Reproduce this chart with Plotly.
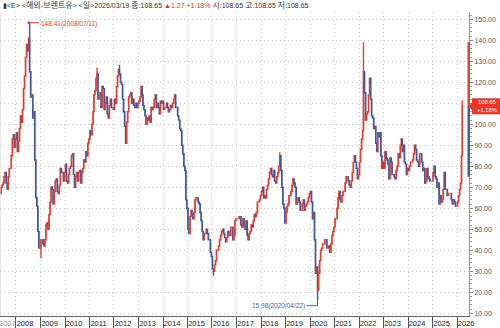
import plotly.graph_objects as go

# ---------------- data ----------------
# semimonthly closing prices (USD/bbl), Brent, May 2007 .. Mar 2026
c2007 = [67, 70, 71, 72, 75, 77, 72, 69, 75, 79, 79, 85, 93, 95, 89, 93]
c2008 = [96, 87, 92, 98, 104, 101, 107, 117, 123, 132, 138, 135, 141, 125, 113, 114, 103, 106, 83, 65, 61, 49, 41, 41]
c2009 = [45, 45, 43, 42, 45, 52, 53, 50, 57, 63, 70, 69, 62, 68, 73, 74, 68, 67, 71, 79, 77, 77, 73, 77]
c2010 = [81, 73, 72, 76, 79, 80, 85, 86, 76, 70, 75, 77, 73, 77, 78, 72, 77, 79, 83, 82, 87, 85, 91, 93]
c2011 = [97, 95, 100, 106, 114, 116, 122, 124, 112, 114, 115, 108, 118, 117, 107, 110, 113, 105, 103, 109, 112, 108, 108, 107]
c2012 = [112, 110, 118, 123, 126, 124, 120, 119, 112, 106, 99, 91, 101, 106, 113, 114, 115, 110, 112, 109, 108, 110, 108, 110]
c2013 = [111, 113, 118, 114, 109, 107, 104, 100, 103, 102, 104, 101, 108, 107, 108, 112, 114, 108, 110, 108, 105, 111, 110, 111]
c2014 = [107, 108, 108, 110, 108, 106, 107, 109, 108, 110, 112, 114, 108, 108, 104, 102, 98, 97, 90, 86, 80, 78, 64, 60]
c2015 = [50, 48, 56, 59, 57, 55, 58, 64, 65, 65, 63, 62, 58, 54, 49, 45, 48, 48, 50, 48, 45, 45, 39, 37]
c2016 = [31, 30, 33, 35, 40, 40, 42, 45, 47, 49, 50, 48, 46, 44, 46, 49, 47, 47, 51, 51, 45, 47, 54, 55]
c2017 = [55, 55, 56, 56, 52, 51, 55, 52, 50, 54, 47, 45, 48, 49, 52, 51, 54, 57, 56, 58, 63, 63, 64, 66]
c2018 = [68, 70, 65, 66, 65, 69, 71, 74, 77, 79, 76, 75, 78, 73, 72, 75, 77, 80, 85, 78, 70, 62, 60, 53]
c2019 = [58, 61, 62, 66, 66, 68, 71, 74, 72, 70, 62, 64, 65, 63, 59, 59, 62, 64, 59, 61, 62, 63, 65, 67]
c2020 = [68, 63, 55, 58, 45, 29, 32, 21, 29, 35, 40, 41, 43, 43, 45, 45, 41, 41, 42, 39, 43, 47, 49, 51]
c2021 = [55, 55, 60, 65, 68, 64, 63, 66, 68, 68, 72, 75, 75, 73, 71, 70, 73, 77, 82, 85, 82, 79, 74, 76]
c2022 = [82, 88, 93, 97, 125, 115, 102, 105, 106, 114, 122, 112, 104, 103, 98, 99, 91, 87, 96, 94, 96, 85, 79, 82]
c2023 = [79, 87, 84, 83, 81, 74, 84, 82, 76, 76, 75, 74, 78, 80, 86, 84, 90, 93, 87, 90, 82, 81, 76, 79]
c2024 = [78, 80, 82, 82, 83, 86, 90, 88, 83, 82, 80, 86, 86, 82, 78, 79, 72, 73, 79, 75, 74, 73, 73, 73]
c2025 = [77, 80, 75, 74, 70, 72, 62, 66, 63, 64, 69, 77, 69, 69, 66, 67, 67, 67, 64, 62, 64, 63, 61, 61]
c2026 = [63, 66, 69, 72, 85, 108.65]

# intraperiod extremes
spike_dates = ["2008-07-11", "2008-12-24", "2011-04-11", "2012-03-13", "2016-01-20",
               "2018-10-03", "2020-04-22", "2022-03-07", "2026-03-17"]
spike_values = [148.41, 36.2, 127.0, 128.4, 27.9, 86.7, 15.98, 139.1, 111.5]

peak_date, peak_value, peak_label = "2008-07-11", 148.41, "148.41(2008/07/11)"
low_date, low_value, low_label = "2020-04-22", 15.98, "15.98(2020/04/22)"

last_close = 108.65
last_change_pct = "+1.18%"
band_top, band_bottom = 139.3, 75.0

year_ticks = list(range(2008, 2027))
y_ticks = list(range(10, 151, 10))
hidden_y_label = 110  # covered by the current-price tag in the reference

K = "<span style='font-size:8px'>"
E = "</span>"
header = ("▮&lt;E&gt; &lt;" + K + "해외-브렌트유" + E + "&gt; &lt;" + K + "일" + E + "&gt;2026/03/19 "
          + K + "종" + E + ":108.65 "
          "<span style='color:#e0302a'>▲1.27 +1.18%</span> "
          + K + "시" + E + ":108.65 " + K + "고" + E + ":108.65 " + K + "저" + E + ":108.65")

# ---------------- build series ----------------
yearly = [(2007, c2007), (2008, c2008), (2009, c2009), (2010, c2010), (2011, c2011),
          (2012, c2012), (2013, c2013), (2014, c2014), (2015, c2015), (2016, c2016),
          (2017, c2017), (2018, c2018), (2019, c2019), (2020, c2020), (2021, c2021),
          (2022, c2022), (2023, c2023), (2024, c2024), (2025, c2025), (2026, c2026)]

dates, closes = [], []
for yr, vals in yearly:
    m0 = 5 if yr == 2007 else 1
    for k, v in enumerate(vals):
        m = m0 + k // 2
        d = 8 if k % 2 == 0 else 23
        if yr == 2026 and m == 3 and k % 2 == 1:
            d = 19
        dates.append(f"{yr}-{m:02d}-{d:02d}")
        closes.append(v)

opens = [closes[0]] + closes[:-1]
highs = [max(o, c) for o, c in zip(opens, closes)]
lows = [min(o, c) for o, c in zip(opens, closes)]
for sd, sv in zip(spike_dates, spike_values):
    for i in range(1, len(dates)):
        if dates[i - 1] < sd <= dates[i]:
            highs[i] = max(highs[i], sv)
            lows[i] = min(lows[i], sv)
            break

RED = "#e2402f"
BLUE = "#40589f"
GRID = "#c9c9c9"
FONT = "Liberation Sans, Arial, sans-serif"

fig = go.Figure()
fig.add_trace(go.Candlestick(
    x=dates, open=opens, high=highs, low=lows, close=closes,
    increasing=dict(line=dict(color=RED, width=1.4), fillcolor=RED),
    decreasing=dict(line=dict(color=BLUE, width=1.4), fillcolor=BLUE),
    whiskerwidth=0, hoverinfo="skip", showlegend=False,
))

fig.update_layout(
    width=500, height=328,
    margin=dict(l=0, r=31, t=12, b=12, pad=0),
    paper_bgcolor="white", plot_bgcolor="white",
    showlegend=False,
    xaxis=dict(
        type="date", range=["2007-05-08", "2026-06-28"],
        rangeslider=dict(visible=False),
        tickvals=[f"{y}-01-01" for y in year_ticks],
        ticktext=[str(y) for y in year_ticks],
        ticks="outside", ticklen=11, tickwidth=1, tickcolor="#555",
        showline=True, linecolor="#666", linewidth=1,
        showgrid=True, gridcolor=GRID, griddash="1px,3px", gridwidth=1,
        zeroline=False,
        tickfont=dict(family=FONT, size=7.5, color="#222"),
        ticklabelshift=9, ticklabelstandoff=-11,
    ),
    yaxis=dict(
        side="right", range=[8.666, 153.5],
        tickvals=y_ticks,
        ticktext=["" if v == hidden_y_label else f"{v:.2f}" for v in y_ticks],
        ticks="outside", ticklen=3, tickcolor="#888",
        showline=True, linecolor="#999", linewidth=1,
        showgrid=True, gridcolor=GRID, griddash="1px,3px", gridwidth=1,
        zeroline=False,
        minor=dict(dtick=2, ticks="outside", ticklen=2, tickcolor="#999", showgrid=False),
        tickfont=dict(family=FONT, size=7, color="#555"),
    ),
)

shapes = []
# left border
shapes.append(dict(type="line", xref="paper", yref="paper", x0=0, x1=0, y0=0, y1=1,
                   line=dict(color="#cfcfcf", width=1)))
# axis colour band
shapes.append(dict(type="rect", xref="paper", xsizemode="pixel", xanchor=1, x0=-1.5, x1=0.8,
                   yref="y", y0=last_close, y1=band_top, fillcolor=RED, line=dict(width=0)))
shapes.append(dict(type="rect", xref="paper", xsizemode="pixel", xanchor=1, x0=-1.5, x1=0.8,
                   yref="y", y0=band_bottom, y1=last_close, fillcolor=BLUE, line=dict(width=0)))
# current price tag
shapes.append(dict(type="path", xref="paper", xsizemode="pixel", xanchor=1,
                   yref="y", ysizemode="pixel", yanchor=last_close,
                   path="M 0 0 L 3 4 L 3 8 L 32 8 L 32 -8 L 3 -8 L 3 -4 Z",
                   fillcolor="#e8372c", line=dict(width=0)))
# peak leader
shapes.append(dict(type="path", xref="x", xsizemode="pixel", xanchor=peak_date,
                   yref="y", ysizemode="pixel", yanchor=peak_value,
                   path="M 0 0 L 10 0", line=dict(color=RED, width=1)))
shapes.append(dict(type="circle", xref="x", xsizemode="pixel", xanchor=peak_date,
                   yref="y", ysizemode="pixel", yanchor=peak_value,
                   x0=-1.5, x1=1.5, y0=-1.5, y1=1.5, fillcolor=RED, line=dict(width=0)))
# low leader
shapes.append(dict(type="path", xref="x", xsizemode="pixel", xanchor=low_date,
                   yref="y", ysizemode="pixel", yanchor=low_value,
                   path="M -11 -5 L 0 -5 L 0 0", line=dict(color="#4a68a8", width=1)))
fig.update_layout(shapes=shapes)

annotations = [
    dict(xref="paper", yref="paper", x=0, y=1, xanchor="left", yanchor="middle",
         xshift=1, yshift=7, showarrow=False, text=header,
         font=dict(family="Liberation Sans, Noto Sans CJK KR, sans-serif", size=7, color="#333")),
    dict(xref="x", yref="y", x=peak_date, y=peak_value, xanchor="left", yanchor="middle",
         xshift=10, yshift=-1, showarrow=False, text=peak_label,
         font=dict(family=FONT, size=6.5, color=RED)),
    dict(xref="x", yref="y", x=low_date, y=low_value, xanchor="right", yanchor="middle",
         xshift=-11, yshift=-5, showarrow=False, text=low_label,
         font=dict(family=FONT, size=6.5, color="#4a68a8")),
    dict(xref="paper", yref="y", x=1, y=last_close, xanchor="center", yanchor="middle",
         xshift=18, yshift=0, showarrow=False, borderpad=0,
         text=f"{last_close:.2f}<br>{last_change_pct}",
         font=dict(family=FONT, size=5.8, color="white")),
    dict(xref="paper", yref="paper", x=0, y=0, xanchor="left", yanchor="middle",
         xshift=-3, yshift=-7, showarrow=False, text="2007",
         font=dict(family=FONT, size=7.5, color="#999")),
]
fig.update_layout(annotations=annotations)

fig.write_html("out.html")
